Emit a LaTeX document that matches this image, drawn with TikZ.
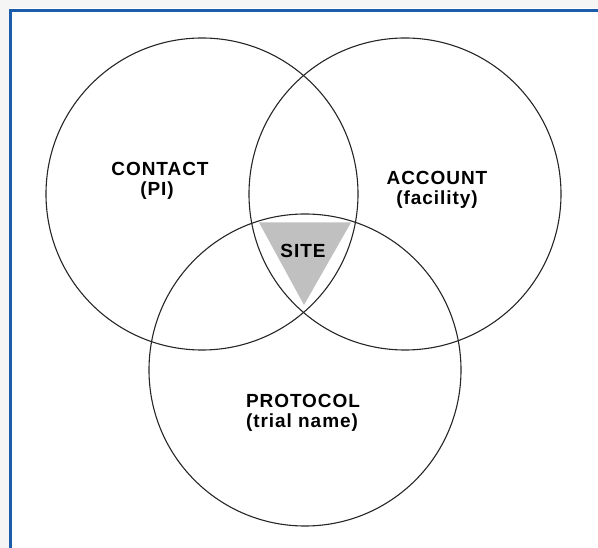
\documentclass[tikz,border=0pt]{standalone}
\usepackage{fontspec}
\setmainfont{Liberation Sans}
\newfontfamily\lblfont[LetterSpace=5]{Liberation Sans}
\definecolor{frameblue}{HTML}{1C5DAA}
\definecolor{sitegray}{HTML}{C0C0C0}
\begin{document}
\begin{tikzpicture}[x=1pt,y=-1pt,
  venn/.style={draw=black!85,line width=1.1pt},
  lbl/.style={anchor=base,inner sep=0pt,font=\lblfont\fontsize{19}{20}\bfseries\selectfont},
  frameline/.style={draw=frameblue,line width=2.6pt}]
\useasboundingbox (0,0) rectangle (598,548);
\fill[black!4] (0,0) rectangle (598,8.5);
\fill[black!4] (0,0) rectangle (8.5,548);
\coordinate (fc) at (10.3,10.3);
\coordinate (fr) at (598,10.3);
\coordinate (fb) at (10.3,548);
\draw[frameline] (fr) -- (fc) -- (fb);
% shaded site triangle
\coordinate (t1) at (259,222.5);
\coordinate (t2) at (351,222.5);
\coordinate (t3) at (304,305);
\fill[sitegray] (t1) -- (t2) -- (t3) -- cycle;
% circles
\draw[venn] (202,194) circle (156);
\draw[venn] (405,194) circle (156);
\draw[venn] (305,370) circle (156);
% labels
\node[lbl] (contact) at (160,176) {CONTACT};
\node[lbl] (pi) at (157,196) {(PI)};
\node[lbl] (account) at (437,185) {ACCOUNT};
\node[lbl] (facility) at (437,205) {(facility)};
\node[lbl] (site) at (303,258) {SITE};
\node[lbl] (protocol) at (303,408) {PROTOCOL};
\node[lbl] (trial) at (302,428) {(trial name)};
\end{tikzpicture}
\end{document}
